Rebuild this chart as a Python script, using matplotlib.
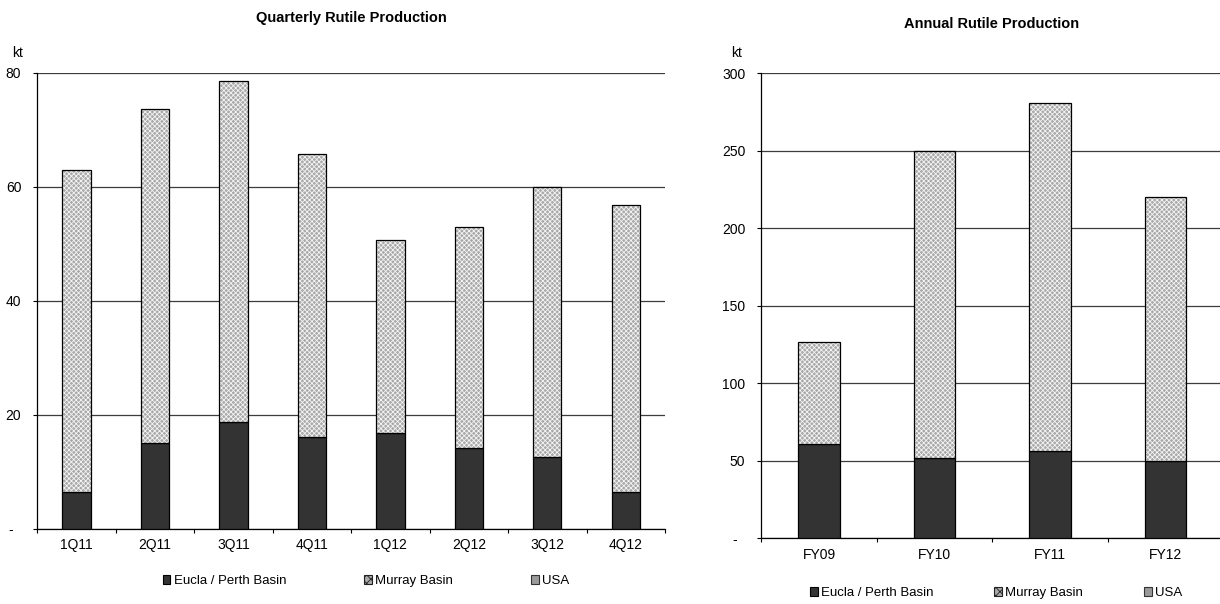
import matplotlib
matplotlib.use("Agg")
import matplotlib.pyplot as plt
from matplotlib.patches import Patch
from matplotlib.ticker import FuncFormatter
import numpy as np

plt.rcParams['font.family'] = ['Liberation Sans', 'DejaVu Sans']
plt.rcParams['hatch.linewidth'] = 0.6

# Quarterly rutile production (kt)
quarters = ['1Q11', '2Q11', '3Q11', '4Q11', '1Q12', '2Q12', '3Q12', '4Q12']
q_eucla = [6.4, 15.1, 18.7, 16.1, 16.8, 14.1, 12.6, 6.5]
q_murray = [56.6, 58.6, 59.9, 49.7, 33.8, 38.8, 47.3, 50.3]
q_usa = [0, 0, 0, 0, 0, 0, 0, 0]

# Annual rutile production (kt)
years = ['FY09', 'FY10', 'FY11', 'FY12']
y_eucla = [61.0, 51.7, 56.3, 50.0]
y_murray = [65.7, 198.3, 224.5, 170.0]
y_usa = [0, 0, 0, 0]

series_names = ['Eucla / Perth Basin', 'Murray Basin', 'USA']

EUCLA_C = '#333333'
MURRAY_FACE = '#a9a9a9'
MURRAY_HATCH = '#f4f4f4'
MURRAY_PAT = 'xxxxxxx'
USA_C = '#9a9a9a'
GRID_C = '#3c3c3c'

W, H = 1220, 604
fig = plt.figure(figsize=(W / 100, H / 100), dpi=100)


def draw_panel(rect, cats, eucla, murray, usa, ymax, step, title, title_xy, leg_xy, colspace):
    ax = fig.add_axes(rect)
    x = np.arange(len(cats))
    eucla = np.asarray(eucla, dtype=float)
    murray = np.asarray(murray, dtype=float)
    usa = np.asarray(usa, dtype=float)
    w = 0.36
    ax.bar(x, eucla, w, color=EUCLA_C, edgecolor='black', linewidth=0.9, zorder=3)
    ax.bar(x, murray, w, bottom=eucla, color=MURRAY_FACE, hatch=MURRAY_PAT,
           edgecolor=MURRAY_HATCH, linewidth=0, zorder=3)
    ax.bar(x, murray, w, bottom=eucla, fill=False, edgecolor='black', linewidth=0.9, zorder=4)
    ax.bar(x, usa, w, bottom=eucla + murray, color=USA_C, linewidth=0, zorder=3)

    ax.set_xlim(-0.5, len(cats) - 0.5)
    ax.set_ylim(0, ymax)
    ax.set_yticks(np.arange(0, ymax + 1, step))
    ax.yaxis.set_major_formatter(FuncFormatter(lambda v, p: '-  ' if v == 0 else f'{v:.0f}'))
    ax.yaxis.grid(True, color=GRID_C, linewidth=0.9)
    ax.set_axisbelow(True)

    # category ticks sit between the bars, labels centred on the bars
    ax.set_xticks(np.arange(len(cats) + 1) - 0.5)
    ax.set_xticklabels([])
    ax.set_xticks(x, minor=True)
    ax.set_xticklabels(cats, minor=True)
    ax.tick_params(axis='x', which='major', direction='out', length=3, width=0.8, color='black')
    ax.tick_params(axis='x', which='minor', length=0, pad=7, labelsize=10)
    ax.tick_params(axis='y', direction='out', length=3, width=0.8, pad=8.5, labelsize=10)

    for s in ('top', 'right'):
        ax.spines[s].set_visible(False)
    for s in ('left', 'bottom'):
        ax.spines[s].set_color('black')
        ax.spines[s].set_linewidth(0.9)

    fig.text(title_xy[0] / W, 1 - title_xy[1] / H, title, ha='center', va='center',
             fontsize=10.5, fontweight='bold')

    handles = [
        Patch(facecolor=EUCLA_C, edgecolor='black', linewidth=0.8),
        Patch(facecolor=MURRAY_FACE, edgecolor='#222222', hatch='xxxx', linewidth=0.8),
        Patch(facecolor=USA_C, edgecolor='#333333', linewidth=0.8),
    ]
    fig.legend(handles, series_names, loc='center',
               bbox_to_anchor=(leg_xy[0] / W, 1 - leg_xy[1] / H), ncol=3, frameon=False,
               fontsize=9.5, handlelength=0.6, handleheight=0.6, handletextpad=0.25,
               columnspacing=colspace, borderpad=0, borderaxespad=0)
    return ax


ax1 = draw_panel([37.3 / W, 1 - 528.7 / H, (665 - 37.3) / W, (528.7 - 73) / H],
                 quarters, q_eucla, q_murray, q_usa, 80, 20,
                 'Quarterly Rutile Production', (351, 18.3), (366, 581), 5.9)
ax2 = draw_panel([761.3 / W, 1 - 538 / H, (1223 - 761.3) / W, (538 - 73.3) / H],
                 years, y_eucla, y_murray, y_usa, 300, 50,
                 'Annual Rutile Production', (992, 23.6), (996, 593), 4.6)

fig.text(17.5 / W, 1 - 52.7 / H, 'kt', ha='center', va='center', fontsize=10)
fig.text(737 / W, 1 - 52.7 / H, 'kt', ha='center', va='center', fontsize=10)

fig.savefig('out.png', dpi=100)
